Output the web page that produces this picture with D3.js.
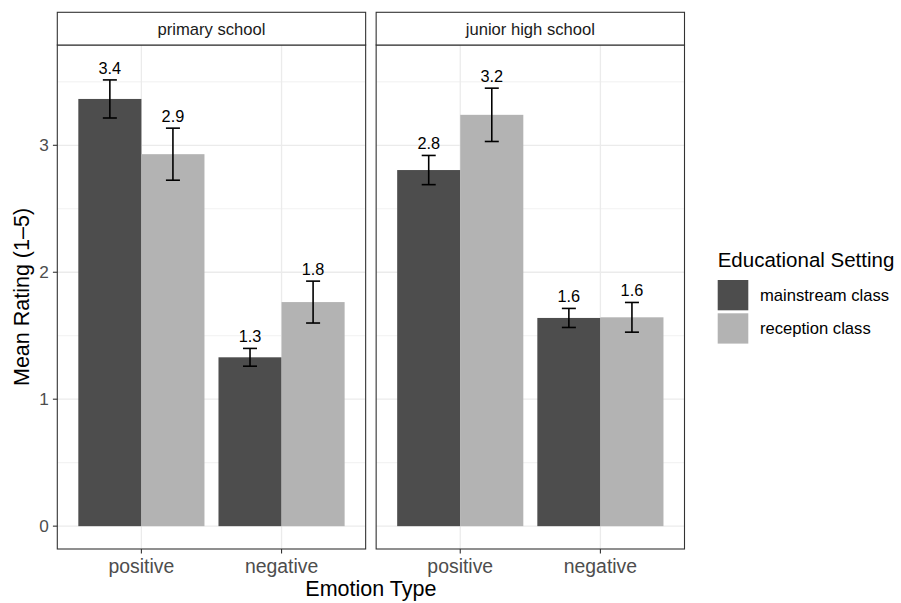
<!DOCTYPE html>
<html>
<head>
<meta charset="utf-8">
<script src="https://cdn.jsdelivr.net/npm/d3@7"></script>
<style>
  body { margin: 0; background: #fff; }
  svg { display: block; font-family: "Liberation Sans", Arial, sans-serif; }
</style>
</head>
<body>
<svg class="chart" width="901" height="603"></svg>
<script>
var panels = ["primary school", "junior high school"];
var emotions = ["positive", "negative"];
var settings = ["mainstream class", "reception class"];

// means and standard errors, per panel, ordered [positive, negative]
var primaryMainstream = [3.365, 1.33];
var primaryReception  = [2.93, 1.765];
var juniorMainstream  = [2.805, 1.64];
var juniorReception   = [3.24, 1.645];

var primaryMainstreamSe = [0.15, 0.07];
var primaryReceptionSe  = [0.205, 0.165];
var juniorMainstreamSe  = [0.115, 0.075];
var juniorReceptionSe   = [0.21, 0.117];

var yTicks = [0, 1, 2, 3];
var yMinor = [0.5, 1.5, 2.5, 3.5];

(function() {
  var svg = d3.select(".chart");

  var left = 57.3, right = 684.5, top = 45, bottom = 549,
      stripTop = 12.3, gap = 10.5;
  var panelW = (right - left - gap) / 2;

  var meansBy = {
    "primary school": [primaryMainstream, primaryReception],
    "junior high school": [juniorMainstream, juniorReception]
  };
  var seBy = {
    "primary school": [primaryMainstreamSe, primaryReceptionSe],
    "junior high school": [juniorMainstreamSe, juniorReceptionSe]
  };
  var fill = d3.scaleOrdinal().domain(settings).range(["#4d4d4d", "#b3b3b3"]);

  var yScale = d3.scaleLinear().domain([-0.18, 3.79]).range([bottom, top]);
  var xScale = d3.scalePoint().domain(emotions).range([0, panelW]).padding(0.6);
  var step = xScale.step();
  var barW = step * 0.45;
  var fmt = d3.format(".1f");

  panels.forEach(function(p, pi) {
    var x0 = left + pi * (panelW + gap);
    var g = svg.append("g").attr("transform", "translate(" + x0 + ",0)");

    // grid
    g.selectAll(".minor").data(yMinor).enter().append("line")
      .attr("x1", 0).attr("x2", panelW)
      .attr("y1", yScale).attr("y2", yScale)
      .attr("stroke", "#ebebeb").attr("stroke-width", 0.7);
    g.selectAll(".major").data(yTicks).enter().append("line")
      .attr("x1", 0).attr("x2", panelW)
      .attr("y1", yScale).attr("y2", yScale)
      .attr("stroke", "#ebebeb").attr("stroke-width", 1.3);
    g.selectAll(".vmajor").data(emotions).enter().append("line")
      .attr("x1", xScale).attr("x2", xScale)
      .attr("y1", top).attr("y2", bottom)
      .attr("stroke", "#ebebeb").attr("stroke-width", 1.3);

    var rows = [];
    emotions.forEach(function(e, ei) {
      settings.forEach(function(s, si) {
        rows.push({
          emotion: e, setting: s, si: si,
          mean: meansBy[p][si][ei],
          se: seBy[p][si][ei]
        });
      });
    });

    function cx(d) { return xScale(d.emotion) + (d.si - 0.5) * barW; }

    g.selectAll(".bar").data(rows).enter().append("rect")
      .attr("x", function(d) { return xScale(d.emotion) - barW + d.si * barW; })
      .attr("width", barW)
      .attr("y", function(d) { return yScale(d.mean); })
      .attr("height", function(d) { return yScale(0) - yScale(d.mean); })
      .attr("fill", function(d) { return fill(d.setting); });

    var cap = step * 0.1;
    var eb = g.selectAll(".err").data(rows).enter().append("g")
      .attr("stroke", "#000").attr("stroke-width", 1.6);
    eb.append("line")
      .attr("x1", cx).attr("x2", cx)
      .attr("y1", function(d) { return yScale(d.mean + d.se); })
      .attr("y2", function(d) { return yScale(d.mean - d.se); });
    eb.append("line")
      .attr("x1", function(d) { return cx(d) - cap / 2; })
      .attr("x2", function(d) { return cx(d) + cap / 2; })
      .attr("y1", function(d) { return yScale(d.mean + d.se); })
      .attr("y2", function(d) { return yScale(d.mean + d.se); });
    eb.append("line")
      .attr("x1", function(d) { return cx(d) - cap / 2; })
      .attr("x2", function(d) { return cx(d) + cap / 2; })
      .attr("y1", function(d) { return yScale(d.mean - d.se); })
      .attr("y2", function(d) { return yScale(d.mean - d.se); });

    g.selectAll(".lab").data(rows).enter().append("text")
      .attr("x", cx)
      .attr("y", function(d) { return yScale(d.mean + d.se) - 6; })
      .attr("text-anchor", "middle")
      .attr("font-size", 16.3)
      .attr("fill", "#000")
      .text(function(d) { return fmt(d.mean); });

    // panel border
    g.append("rect")
      .attr("x", 0).attr("y", top).attr("width", panelW).attr("height", bottom - top)
      .attr("fill", "none").attr("stroke", "#333").attr("stroke-width", 1.1);

    // strip
    g.append("rect")
      .attr("x", 0).attr("y", stripTop).attr("width", panelW).attr("height", top - stripTop)
      .attr("fill", "#fff").attr("stroke", "#333").attr("stroke-width", 1.1);
    g.append("text")
      .attr("x", panelW / 2).attr("y", 34.8)
      .attr("text-anchor", "middle")
      .attr("font-size", 16.6)
      .attr("fill", "#1a1a1a")
      .text(p);

    // x axis
    var xAxis = g.append("g").attr("transform", "translate(0," + bottom + ")");
    xAxis.selectAll("line").data(emotions).enter().append("line")
      .attr("x1", xScale).attr("x2", xScale)
      .attr("y1", 0).attr("y2", 4.4)
      .attr("stroke", "#333").attr("stroke-width", 1.1);
    xAxis.selectAll("text").data(emotions).enter().append("text")
      .attr("x", xScale).attr("y", 24)
      .attr("text-anchor", "middle")
      .attr("font-size", 19.4)
      .attr("fill", "#4d4d4d")
      .text(function(d) { return d; });
  });

  // y axis
  var yAxis = svg.append("g").attr("transform", "translate(" + left + ",0)");
  yAxis.selectAll("line").data(yTicks).enter().append("line")
    .attr("x1", -4.4).attr("x2", 0)
    .attr("y1", yScale).attr("y2", yScale)
    .attr("stroke", "#333").attr("stroke-width", 1.1);
  yAxis.selectAll("text").data(yTicks).enter().append("text")
    .attr("x", -8.5)
    .attr("y", function(d) { return yScale(d) + 6.2; })
    .attr("text-anchor", "end")
    .attr("font-size", 17.2)
    .attr("fill", "#4d4d4d")
    .text(function(d) { return d; });

  // axis titles
  svg.append("text")
    .attr("x", (left + right) / 2).attr("y", 596)
    .attr("text-anchor", "middle")
    .attr("font-size", 21.5)
    .text("Emotion Type");
  svg.append("text")
    .attr("transform", "translate(29," + (top + bottom) / 2 + ") rotate(-90)")
    .attr("text-anchor", "middle")
    .attr("font-size", 21.5)
    .text("Mean Rating (1\u20135)");

  // legend
  var legend = svg.append("g").attr("transform", "translate(717.7,0)");
  legend.append("text")
    .attr("x", 0).attr("y", 266.7)
    .attr("font-size", 20.5)
    .text("Educational Setting");
  var item = legend.selectAll(".item").data(settings).enter().append("g")
    .attr("transform", function(d, i) { return "translate(0," + (280 + i * 33.3) + ")"; });
  item.append("rect")
    .attr("width", 30.6).attr("height", 30.3)
    .attr("fill", function(d) { return fill(d); });
  item.append("text")
    .attr("x", 42.3).attr("y", 21.2)
    .attr("font-size", 16.6)
    .text(function(d) { return d; });
})();
</script>
</body>
</html>
